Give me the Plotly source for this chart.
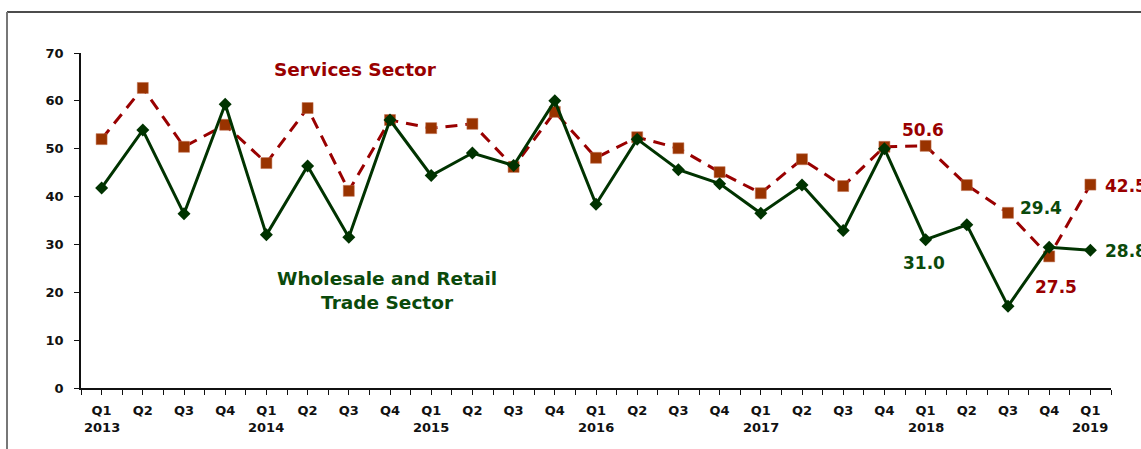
import plotly.graph_objects as go

quarters = ["Q1", "Q2", "Q3", "Q4"] * 6 + ["Q1"]
years = ["2013", "2014", "2015", "2016", "2017", "2018", "2019"]
year_idx = [0, 4, 8, 12, 16, 20, 24]

services = [52.0, 62.7, 50.4, 55.0, 47.0, 58.5, 41.2, 56.0,
            54.3, 55.2, 46.2, 57.7, 48.1, 52.4, 50.1, 45.1,
            40.7, 47.8, 42.2, 50.4, 50.6, 42.4, 36.6, 27.5, 42.5]
wholesale = [41.8, 53.9, 36.4, 59.3, 32.0, 46.4, 31.5, 56.0,
             44.4, 49.1, 46.5, 60.0, 38.4, 52.0, 45.6, 42.7,
             36.5, 42.4, 32.9, 50.0, 31.0, 34.1, 17.1, 29.4, 28.8]

RED = "#990000"
SQ = "#993300"
GREEN = "#003300"
GTEXT = "#0B4A0B"
FONT = "DejaVu Sans"
TICKSIZE = 13

x = list(range(len(quarters)))

fig = go.Figure()
fig.add_trace(go.Scatter(
    x=x, y=services, mode="lines+markers",
    line=dict(color=RED, width=3, dash="12px,8px"),
    marker=dict(symbol="square", size=11, color=SQ,
                line=dict(color="#c07050", width=0.5)),
    showlegend=False))
fig.add_trace(go.Scatter(
    x=x, y=wholesale, mode="lines+markers",
    line=dict(color=GREEN, width=3),
    marker=dict(symbol="diamond", size=10, color=GREEN),
    showlegend=False))

tickvals = [i * 0.5 - 0.5 for i in range(2 * len(quarters) + 1)]
ticktext = []
for tv in tickvals:
    if tv >= 0 and abs(tv - round(tv)) < 1e-9:
        ticktext.append("<b>%s</b>" % quarters[int(round(tv))])
    else:
        ticktext.append("")

annotations = []
for yi, yr in zip(year_idx, years):
    annotations.append(dict(x=yi, y=-0.117, xref="x", yref="paper", text="<b>%s</b>" % yr,
                            showarrow=False, font=dict(family=FONT, size=TICKSIZE, color="#111111"),
                            xanchor="center", yanchor="middle"))

# Series names
annotations.append(dict(x=(355 - 81) / 1030, y=(388 - 69) / 335, xref="paper", yref="paper",
                        text="<b>Services Sector</b>", showarrow=False,
                        font=dict(family=FONT, size=18.5, color=RED),
                        xanchor="center", yanchor="middle"))
annotations.append(dict(x=(387 - 81) / 1030, y=(388 - 290) / 335, xref="paper", yref="paper",
                        text="<b>Wholesale and Retail<br>Trade Sector</b>", showarrow=False,
                        font=dict(family=FONT, size=18.5, color=GTEXT),
                        xanchor="center", yanchor="middle", align="center"))

def lab(i, vals, color, xs, ys, xanchor="center"):
    annotations.append(dict(x=i, y=vals[i], xref="x", yref="y", text="<b>%.1f</b>" % vals[i],
                            showarrow=False, font=dict(family=FONT, size=17, color=color),
                            xanchor=xanchor, yanchor="middle", xshift=xs, yshift=ys))

lab(20, services, RED, -3, 16)
lab(20, wholesale, GTEXT, -2, -23)
lab(23, wholesale, GTEXT, -8, 39)
lab(23, services, RED, 7, -31)
lab(24, services, RED, 13, -1, "left")
lab(24, wholesale, GTEXT, 13, -1, "left")

# outer frame (top and left border)
x0 = (7 - 81) / 1030
ytop = (388 - 12) / 335
shapes = [
    dict(type="line", xref="paper", yref="paper", x0=x0, x1=1.2, y0=ytop, y1=ytop,
         line=dict(color="#111111", width=1.5)),
    dict(type="line", xref="paper", yref="paper", x0=x0, x1=x0, y0=-0.3, y1=ytop,
         line=dict(color="#777777", width=2)),
]

fig.update_layout(
    width=1141, height=449,
    margin=dict(l=81, r=30, t=53, b=61),
    paper_bgcolor="white", plot_bgcolor="white",
    annotations=annotations, shapes=shapes,
    font=dict(family=FONT, size=TICKSIZE, color="#111111"),
    xaxis=dict(range=[-0.5, 24.5], tickvals=tickvals, ticktext=ticktext,
               showgrid=False, zeroline=False, showline=True, linecolor="#111111", linewidth=1.5,
               ticks="outside", ticklen=5, tickcolor="#111111", tickwidth=1.2,
               tickfont=dict(family=FONT, size=TICKSIZE, color="#111111"), tickangle=0,
               ticklabelstandoff=5),
    yaxis=dict(range=[0, 70], tickvals=[0, 10, 20, 30, 40, 50, 60, 70],
               ticktext=["<b>%d</b>" % v for v in [0, 10, 20, 30, 40, 50, 60, 70]],
               showgrid=False, zeroline=False, showline=True, linecolor="#111111", linewidth=1.5,
               ticks="outside", ticklen=5, tickcolor="#111111", tickwidth=1.2,
               tickfont=dict(family=FONT, size=TICKSIZE, color="#111111"),
               ticklabelstandoff=8),
)

fig.write_html("out.html")
